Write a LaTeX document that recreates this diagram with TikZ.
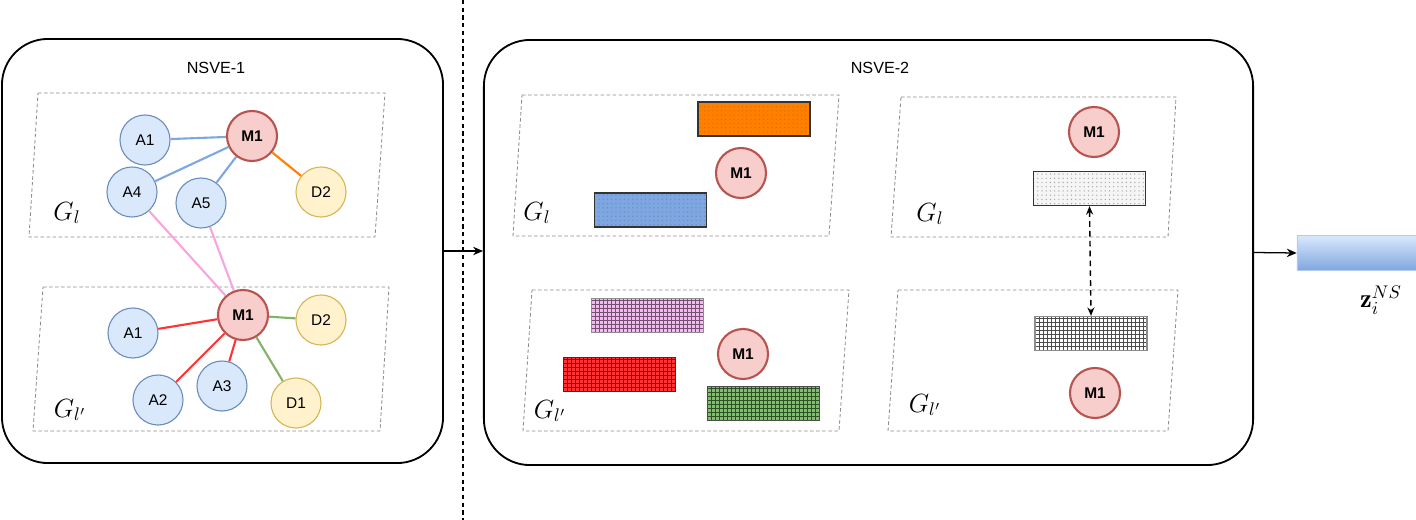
\documentclass[tikz,border=0pt]{standalone}
\usepackage{fontspec}
\setsansfont{Liberation Sans}
\usetikzlibrary{arrows.meta, positioning, patterns, calc}
\definecolor{anodefill}{HTML}{DAE8FC}
\definecolor{anodedraw}{HTML}{6C8EBF}
\definecolor{mnodefill}{HTML}{F8CECC}
\definecolor{mnodedraw}{HTML}{B85450}
\definecolor{dnodefill}{HTML}{FFF2CC}
\definecolor{dnodedraw}{HTML}{D6B656}
\definecolor{edgeblue}{HTML}{7EA6E0}
\definecolor{edgeorange}{HTML}{FF8000}
\definecolor{edgepink}{HTML}{F7A4E0}
\definecolor{edgered}{HTML}{FF3333}
\definecolor{edgegreen}{HTML}{82B366}
\definecolor{framegray}{HTML}{8C8C8C}
\definecolor{featorange}{HTML}{FF8000}
\definecolor{featblue}{HTML}{7EA6E0}
\definecolor{featpink}{HTML}{F6B8F2}
\definecolor{featred}{HTML}{FF3333}
\definecolor{featgreen}{HTML}{7CC068}
\definecolor{outtop}{HTML}{DAE8FC}
\definecolor{outbottom}{HTML}{7EA6E0}
\newcommand{\biglabel}[1]{\scalebox{1.3}{#1}}
\tikzset{
  panel/.style={rectangle, rounded corners=1.15cm, draw=black, line width=1.3pt,
                inner sep=0pt},
  title/.style={font=\sffamily\fontsize{11.5}{13}\selectfont},
  gnode/.style={circle, minimum size=1.25cm, inner sep=0pt, line width=0.8pt,
                font=\sffamily\fontsize{11}{13}\selectfont},
  anode/.style={gnode, draw=anodedraw, fill=anodefill},
  dnode/.style={gnode, draw=dnodedraw, fill=dnodefill},
  mnode/.style={gnode, draw=mnodedraw, fill=mnodefill, line width=1.5pt,
                font=\sffamily\bfseries\fontsize{11}{13}\selectfont},
  frame/.style={draw=framegray, line width=0.6pt, dash pattern=on 2.5pt off 1.8pt},
  glabel/.style={font=\fontsize{14.4}{17}\selectfont},
  link/.style={line width=1.5pt, color=#1},
  featbox/.style={rectangle, draw=black!80, line width=0.9pt, inner sep=0pt,
                  minimum width=2.8cm, minimum height=0.85cm, fill=#1},
  gridfill/.style={path picture={
      \foreach \k in {1,...,27}
        \draw[#1, line width=0.5pt] ($(path picture bounding box.south west)+(\k*0.1cm,0)$) -- ++(0,1cm);
      \foreach \k in {1,...,8}
        \draw[#1, line width=0.5pt] ($(path picture bounding box.south west)+(0,\k*0.1cm)$) -- ++(3cm,0);
    }},
  flow/.style={-{Stealth[length=7pt, width=6pt]}, line width=0.9pt},
  pairflow/.style={{Stealth[length=6pt, width=5pt]}-{Stealth[length=6pt, width=5pt]},
                   line width=1pt, dash pattern=on 4pt off 3pt},
  outbox/.style={rectangle, draw=outbottom!60, line width=0.5pt, top color=outtop,
                 bottom color=outbottom, minimum width=3.05cm, minimum height=0.875cm},
}

\begin{document}
\begin{tikzpicture}[x=0.025cm, y=-0.025cm]
  \useasboundingbox (0,0) rectangle (1416,520);

  \node[panel, minimum width=11.025cm, minimum height=10.6cm] (panel1) at (222.5,251) {};
  \node[panel, minimum width=19.225cm, minimum height=10.625cm] (panel2) at (868.5,252.5) {};
  \node[title] (title1) at (216,68) {NSVE-1};
  \node[title] (title2) at (880,68) {NSVE-2};

  \coordinate (dtop) at (463,0);
  \coordinate (dbot) at (463,520);
  \draw[line width=0.8pt, dash pattern=on 3pt off 2.5pt] (dtop) -- (dbot);

  % NSVE-1
  \draw[frame] (38,93) -- (385,93) -- (375,237) -- (29,237) -- cycle;
  \draw[frame] (43,287) -- (389,287) -- (380,431) -- (33,431) -- cycle;
  \node[glabel] (gl1) at (67,213) {\biglabel{$G_l$}};
  \node[glabel] (glp1) at (70,410) {\biglabel{$G_{l'}$}};

  \node[mnode] (m1) at (252,136) {M1};
  \node[anode] (a1) at (145,140) {A1};
  \node[anode] (a4) at (132,192) {A4};
  \node[anode] (a5) at (201,203) {A5};
  \node[dnode] (d2) at (321,192) {D2};

  \node[mnode] (m1p) at (243,315) {M1};
  \node[anode] (a1p) at (133,333) {A1};
  \node[anode] (a2p) at (158,400) {A2};
  \node[anode] (a3p) at (222,386) {A3};
  \node[dnode] (d2p) at (321,320) {D2};
  \node[dnode] (d1p) at (296,403) {D1};

  \draw[link=edgeblue] (a1) -- (m1);
  \draw[link=edgeblue] (a4) -- (m1);
  \draw[link=edgeblue] (a5) -- (m1);
  \draw[link=edgeorange] (m1) -- (d2);
  \draw[link=edgepink] (a4) -- (m1p);
  \draw[link=edgepink] (a5) -- (m1p);
  \draw[link=edgered] (m1p) -- (a1p);
  \draw[link=edgered] (m1p) -- (a2p);
  \draw[link=edgered] (m1p) -- (a3p);
  \draw[link=edgegreen] (m1p) -- (d2p);
  \draw[link=edgegreen] (m1p) -- (d1p);

  % NSVE-2
  \draw[frame] (522,95) -- (839,95) -- (829,236) -- (513,236) -- cycle;
  \draw[frame] (532,290) -- (849,290) -- (839,431) -- (523,431) -- cycle;
  \draw[frame] (901,97) -- (1176,97) -- (1168,237) -- (891,237) -- cycle;
  \draw[frame] (898,290) -- (1178,290) -- (1168,431) -- (888,431) -- cycle;
  \node[glabel] (gl2) at (537,213) {\biglabel{$G_l$}};
  \node[glabel] (glp2) at (550,411) {\biglabel{$G_{l'}$}};
  \node[glabel] (gl3) at (930,214) {\biglabel{$G_l$}};
  \node[glabel] (glp3) at (925,405) {\biglabel{$G_{l'}$}};

  \node[featbox=featorange, pattern=dots, pattern color=featorange!85!black, preaction={fill=featorange}] (forange) at (754,119) {};
  \node[featbox=featblue, pattern=dots, pattern color=featblue!85!black, preaction={fill=featblue}] (fblue) at (650.5,210) {};
  \node[mnode] (m2) at (741,173) {M1};

  \node[featbox=featpink, draw=black!45, gridfill=featpink!45!black] (fpink) at (647.5,315.5) {};
  \node[featbox=featred, gridfill=featred!35!black] (fred) at (619.5,374.5) {};
  \node[featbox=featgreen, draw=black!70, gridfill=featgreen!40!black] (fgreen) at (763.5,403.5) {};
  \node[mnode] (m2p) at (743,354) {M1};

  \node[mnode] (m3) at (1094,132) {M1};
  \node[featbox=black!4, pattern=dots, pattern color=black!35, preaction={fill=black!4}] (fagg) at (1089.5,188.5) {};
  \node[featbox=white, draw=black!45, gridfill=black!70] (faggp) at (1091,333.5) {};
  \node[mnode] (m3p) at (1095,393) {M1};
  \draw[pairflow] (fagg.south) -- (faggp.north);

  % output
  \node[outbox] (zout) at (1358,253) {};
  \node[glabel] (zlabel) at (1381,300) {\biglabel{$\mathbf{z}_i^{NS}$}};

  \draw[flow] (panel1.east) -- (panel1.east -| panel2.west);
  \draw[flow] (panel2.east) -- (zout.west);
\end{tikzpicture}
\end{document}
